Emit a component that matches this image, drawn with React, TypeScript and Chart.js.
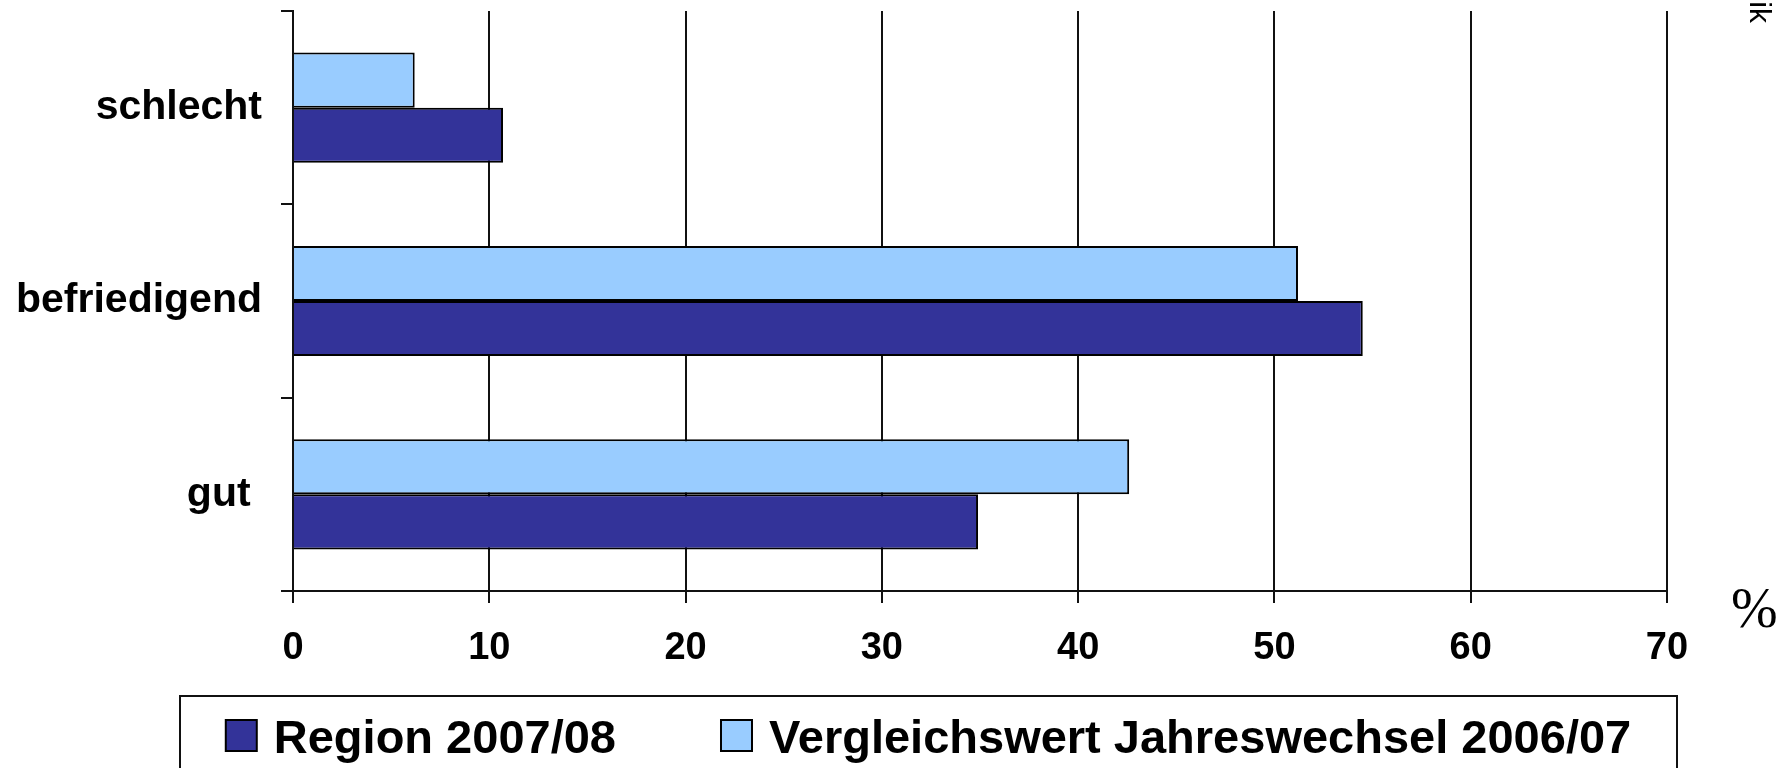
import React, { useEffect, useRef } from "react";
import { Chart, registerables } from "chart.js";

Chart.register(...registerables);

const categories = ["schlecht", "befriedigend", "gut "];
const regionValues = [10.7, 54.5, 34.9];
const vergleichValues = [6.2, 51.2, 42.6];
const regionLabel = "Region 2007/08";
const vergleichLabel = "Vergleichswert Jahreswechsel 2006/07";
const xMin = 0;
const xMax = 70;
const xStep = 10;
const unitLabel = "%";
const cornerText = "ik";

const DARK = "#333399";
const LIGHT = "#99CCFF";

const W = 1786;
const H = 768;

const extrasPlugin = {
  id: "extras",
  afterDraw(chart: any) {
    const ctx = chart.ctx;
    const area = chart.chartArea;
    ctx.save();
    // legend box
    ctx.strokeStyle = "#111";
    ctx.lineWidth = 2;
    const boxL = 180;
    const boxR = 1677;
    const boxT = 696;
    ctx.strokeRect(boxL, boxT, boxR - boxL, 120);
    const items = chart.data.datasets.slice().reverse();
    ctx.font = "bold 47px 'Liberation Sans', Arial, sans-serif";
    ctx.textBaseline = "alphabetic";
    const marker = 31;
    const gapMT = 17;
    const gapItems = 105;
    const widths = items.map((d: any) => marker + gapMT + ctx.measureText(d.label).width);
    const total = widths.reduce((a: number, b: number) => a + b, 0) + gapItems * (items.length - 1);
    let x = (boxL + boxR) / 2 - total / 2;
    items.forEach((d: any, i: number) => {
      ctx.fillStyle = d.backgroundColor;
      ctx.fillRect(x, 720, marker, marker);
      ctx.strokeStyle = "#000";
      ctx.lineWidth = 2;
      ctx.strokeRect(x, 720, marker, marker);
      ctx.fillStyle = "#000";
      ctx.textAlign = "left";
      ctx.fillText(d.label, x + marker + gapMT, 753);
      x += widths[i] + gapItems;
    });
    // unit label
    ctx.font = "56px 'Liberation Serif', 'Times New Roman', serif";
    ctx.textAlign = "left";
    ctx.fillText(unitLabel, area.right + 64, 627);
    // corner rotated text
    ctx.translate(1750, 23);
    ctx.rotate(Math.PI / 2);
    ctx.font = "30px 'Liberation Sans', Arial, sans-serif";
    ctx.textAlign = "right";
    ctx.fillText(cornerText, 0, 0);
    ctx.restore();
  },
};

export default function App() {
  const ref = useRef<HTMLCanvasElement | null>(null);
  useEffect(() => {
    document.body.style.margin = "0";
    const canvas = ref.current!;
    const chart = new Chart(canvas, {
      type: "bar",
      data: {
        labels: categories,
        datasets: [
          {
            label: vergleichLabel,
            data: vergleichValues,
            backgroundColor: LIGHT,
            borderColor: "#000",
            borderWidth: 2,
            categoryPercentage: 0.57,
            barPercentage: 1,
          },
          {
            label: regionLabel,
            data: regionValues,
            backgroundColor: DARK,
            borderColor: "#000",
            borderWidth: 2,
            categoryPercentage: 0.57,
            barPercentage: 1,
          },
        ],
      },
      options: {
        indexAxis: "y",
        responsive: false,
        animation: false,
        devicePixelRatio: 1,
        layout: { padding: { left: 0, right: 119, top: 11, bottom: 97 } },
        plugins: {
          legend: { display: false },
          tooltip: { enabled: false },
        },
        scales: {
          x: {
            min: xMin,
            max: xMax,
            ticks: {
              stepSize: xStep,
              color: "#000",
              padding: 23,
              font: { family: "'Liberation Sans', Arial, sans-serif", size: 38, weight: "bold" },
            },
            grid: { color: "#111", lineWidth: 2, tickLength: 12, drawTicks: true },
            border: { display: true, color: "#111", width: 2 },
            afterFit(scale: any) {
              scale.height = 80;
            },
          },
          y: {
            ticks: {
              color: "#000",
              padding: 19,
              font: { family: "'Liberation Sans', Arial, sans-serif", size: 41, weight: "bold" },
            },
            grid: {
              color: "#111",
              lineWidth: 2,
              drawOnChartArea: false,
              drawTicks: true,
              tickLength: 12,
              offset: true,
            },
            border: { display: true, color: "#111", width: 2 },
            afterFit(scale: any) {
              scale.width = 293;
              scale.paddingTop = 0;
              scale.paddingBottom = 0;
            },
          },
        },
      },
      plugins: [extrasPlugin],
    });
    return () => chart.destroy();
  }, []);
  return (
    <div style={{ width: W, height: H, background: "#fff" }}>
      <canvas ref={ref} width={W} height={H} style={{ display: "block" }} />
    </div>
  );
}
